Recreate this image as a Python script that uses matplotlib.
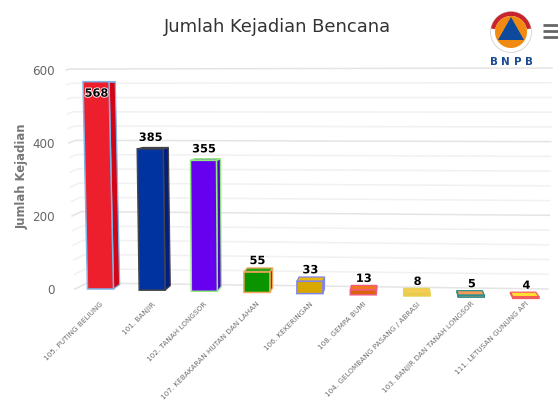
import matplotlib
matplotlib.use("Agg")
import matplotlib.pyplot as plt
from matplotlib.patches import Polygon, Circle, Wedge
import matplotlib.patheffects as pe

categories = ["105. PUTING BELIUNG", "101. BANJIR", "102. TANAH LONGSOR",
              "107. KEBAKARAN HUTAN DAN LAHAN", "106. KEKERINGAN", "108. GEMPA BUMI",
              "104. GELOMBANG PASANG / ABRASI", "103. BANJIR DAN TANAH LONGSOR",
              "111. LETUSAN GUNUNG API"]
values = [568, 385, 355, 55, 33, 13, 8, 5, 4]
front_colors = ["#ED1F2C", "#0033A0", "#6600EE", "#0A9400", "#D9A800", "#D9640A", "#F5C242", "#F58A42", "#FFD91A"]
side_colors = ["#D00515", "#001F80", "#5500CC", "#0A8000", "#C09000", "#C05000", "#E0AE30", "#E07830", "#E8C000"]
top_colors = ["#F0404A", "#333E5C", "#7A20F0", "#2AA81A", "#E8B810", "#F07820", "#F8CC55", "#F89A55", "#FFE030"]
border_colors = ["#7CB5EC", "#434348", "#90ED7D", "#F7A35C", "#8085E9", "#F15C80", "#E4D354", "#2B908F", "#F45B5B"]
major_ticks = [0, 200, 400, 600]
minor_ticks = list(range(0, 601, 40))

W, H = 558, 412
fig = plt.figure(figsize=(W / 100, H / 100), dpi=100, facecolor="white")
L, R, B, T = 62, 552, 289, 70
ax = fig.add_axes([L / W, 1 - B / H, (R - L) / W, (B - T) / H])
ax.set_ylim(0, 600)
ax.set_xlim(L, R)  # horizontal axis in layout units; categories are placed by slot()
ax.patch.set_alpha(0)
for s in ax.spines.values():
    s.set_visible(False)
PXV = (B - T) / 600


def slot(i):
    return 100.5 + 51.5 * i + 0.21 * i * i


def Y(py):
    return (B - py) / PXV


def front(i, v, side):
    """pixel corner of the front face, with the perspective lean and floor tilt"""
    x0 = slot(i)
    x = x0 + side * 13 + (x0 - 250) * (v / 568) * 0.03
    y = B - PXV * v + 0.022 * (x0 - 100) * (1 - v / 600)
    return x, y


def back(p, k=0.022, vx=395, vy=85):
    return p[0] + k * (vx - p[0]), p[1] + k * (vy - p[1])


def poly(points, **kw):
    ax.add_patch(Polygon([(x, Y(y)) for x, y in points], closed=True, clip_on=False, **kw))


def wall_y(v, x):
    y_left = 283 + (69 - 283) * v / 600
    y_right = 289 + (68 - 289) * v / 600
    return y_left + (y_right - y_left) * (x - 87) / (548 - 87)


# perspective grid on the back wall and left wall
for v in minor_ticks:
    col = "#E4E4E4" if v in major_ticks else "#F1F1F1"
    x_back = 87 - 17 * v / 600
    x_front = 75 - 9 * v / 600
    x_right = 548 + 4 * v / 600
    ys = [B + (T - B) * v / 600, wall_y(v, x_back), wall_y(v, x_right)]
    ax.plot([x_front, x_back, x_right], [Y(p) for p in ys],
            color=col, lw=1.1, clip_on=False, zorder=1)

# bars
for i, v in enumerate(values):
    bl, br, tl, tr = front(i, 0, -1), front(i, 0, 1), front(i, v, -1), front(i, v, 1)
    bbl, bbr, btl, btr = back(bl), back(br), back(tl), back(tr)
    ec = border_colors[i]
    if bbr[0] > br[0] or btr[0] > tr[0]:
        poly([br, tr, btr, bbr], facecolor=side_colors[i], edgecolor=ec, lw=0.9, zorder=3)
    else:
        poly([bl, tl, btl, bbl], facecolor=side_colors[i], edgecolor=ec, lw=0.9, zorder=3)
    poly([tl, tr, btr, btl], facecolor=top_colors[i], edgecolor=ec, lw=0.9, zorder=3)
    poly([bl, br, tr, tl], facecolor=front_colors[i], edgecolor=ec, lw=1.1, zorder=4)
    top_y = tl[1]
    lx = (tl[0] + tr[0]) / 2 + 0.5
    ly = top_y + 12 if v > 500 else top_y - 11
    ax.text(lx, Y(ly), str(v), ha="center", va="center", fontsize=8.2, fontweight="bold",
            color="black", zorder=6, clip_on=False,
            path_effects=[pe.withStroke(linewidth=1.2, foreground="white")])

# axes text
ax.set_yticks(major_ticks)
ax.set_yticklabels([str(t) for t in major_ticks], fontsize=8.6, color="#666666")
ax.tick_params(axis="y", length=0, pad=5)
ax.set_xticks([slot(i) + 2 for i in range(len(categories))])
ax.set_xticklabels(categories, rotation=45, ha="right", va="center", rotation_mode="anchor",
                   fontsize=5.2, color="#6E6E6E")
ax.tick_params(axis="x", length=0, pad=10)
fig.text(22 / W, 1 - 176 / H, "Jumlah Kejadian", rotation=90, ha="center", va="center",
         fontsize=8.4, fontweight="bold", color="#777777")
fig.text(277.5 / W, 1 - 27 / H, "Jumlah Kejadian Bencana", ha="center", va="center",
         fontsize=12.9, color="#333333")

# logo and menu overlay
ov = fig.add_axes([0, 0, 1, 1], facecolor="none")
ov.set_xlim(0, W)
ov.set_ylim(H, 0)
ov.axis("off")
cx, cy = 511, 32
ov.add_patch(Circle((cx, cy), 20.5, fc="white", ec="#C8C8C8", lw=0.5))
ov.add_patch(Wedge((cx, cy), 20.3, 190, 350, width=4.3, fc="#C8242B", ec="none"))
ov.add_patch(Circle((cx, cy), 16, fc="#F08A12", ec="none"))
ov.add_patch(Polygon([(cx, 17), (cx - 13, 40), (cx + 13, 40)], fc="#0D4A9E", ec="none"))
for ch, x in zip("BNPB", [493.5, 505.5, 517.5, 529]):
    ov.text(x, 62, ch, ha="center", va="center", fontsize=7.4, fontweight="bold", color="#1A4A90")
for y in [25, 31, 36.5]:
    ov.plot([543, 558], [y, y], color="#666666", lw=2, solid_capstyle="butt")

fig.savefig("out.png", dpi=100)
